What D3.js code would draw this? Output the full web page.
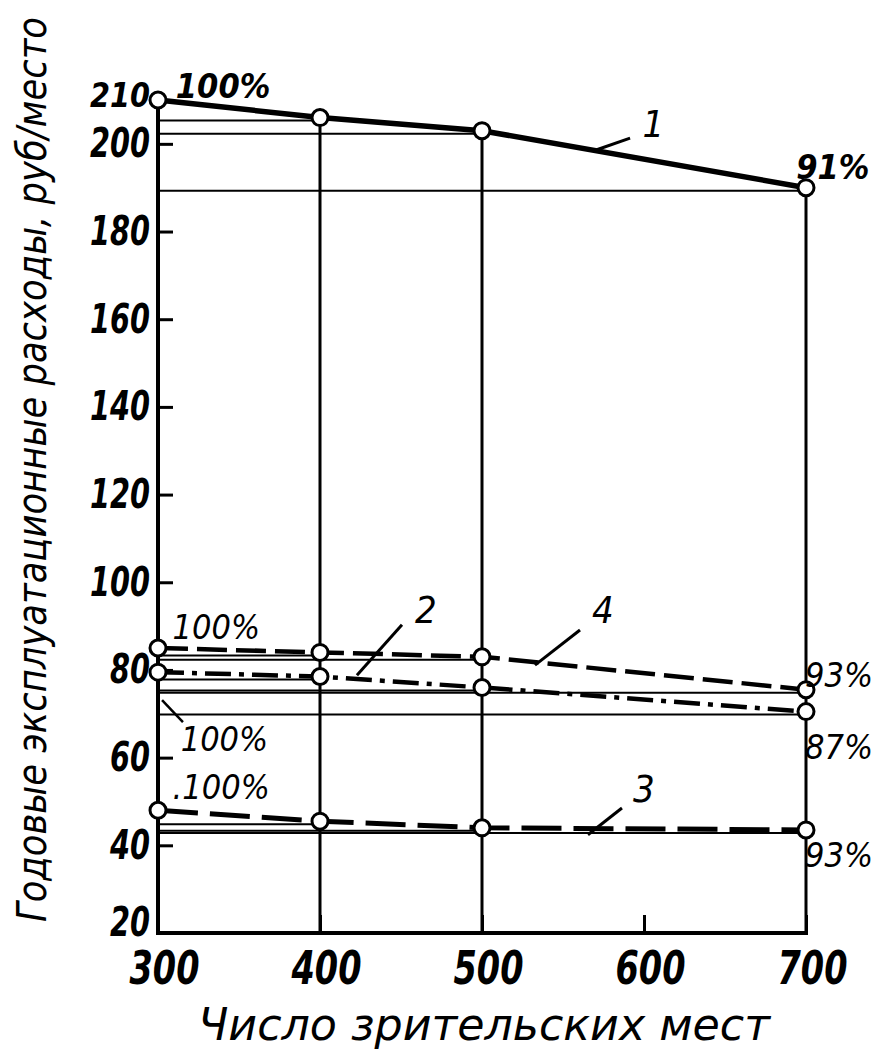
<!DOCTYPE html>
<html>
<head>
<meta charset="utf-8">
<script src="https://cdn.jsdelivr.net/npm/d3@7"></script>
<style>
  body { margin: 0; background: #fff; }
  text { font-family: "DejaVu Sans Condensed", sans-serif; font-style: italic; fill: #000; }
</style>
</head>
<body>
<svg id="chart"></svg>
<script>
// seats in the hall and yearly running costs per seat, rub
let seats = [300, 400, 500, 700];
let series1 = [210, 206, 203, 190];
let series2 = [79.5, 78.5, 76, 70.5];
let series3 = [48, 45.5, 44, 43.5];
let series4 = [85, 84, 83, 75.5];

let xTicks = [300, 400, 500, 600, 700];
let yTicks = [20, 40, 60, 80, 100, 120, 140, 160, 180, 200, 210];

// percent notes and curve numbers, placed in data units
let notes = [
    { t: "100%", x: 311, y: 210.5, bold: true },
    { t: "91%", x: 694, y: 192, bold: true },
    { t: "100%", x: 309, y: 87 },
    { t: "100%", x: 314, y: 61.5 },
    { t: ".100%", x: 309, y: 50.5 },
    { t: "93%", x: 699.4, y: 76.2 },
    { t: "87%", x: 699.4, y: 59.8 },
    { t: "93%", x: 699.4, y: 35 }
];
let numbers = [
    { t: "1", x: 599, y: 201.5, from: [591.4, 201.3], to: [570.4, 198.6] },
    { t: "2", x: 458.6, y: 90.8, from: [450.6, 90.3], to: [422.8, 78.8] },
    { t: "4", x: 567.9, y: 90.8, from: [560.5, 89.1], to: [532.7, 81.1] },
    { t: "3", x: 593.2, y: 49.8, from: [586.4, 48.5], to: [565.4, 42.4] }
];

let width = 877, height = 1058;
let svg = d3.select("#chart").attr("width", width).attr("height", height);

let x = d3.scaleLinear().domain([300, 700]).range([158, 806]);
let y = d3.scaleLinear().domain([20, 210]).range([933, 100]);

// projection lines from the axis to every point
let allSeries = [series1, series2, series3, series4];
allSeries.forEach(s => {
    svg.append("g").selectAll("line")
        .data(s.slice(1))
        .enter()
        .append("line")
        .attr("x1", x(300))
        .attr("x2", (d, i) => x(seats[i + 1]))
        .attr("y1", d => y(d) + 3)
        .attr("y2", d => y(d) + 3)
        .attr("stroke", "#000")
        .attr("stroke-width", 2);
});

// vertical lines down from curve 1
svg.append("g").selectAll("line")
    .data(seats.slice(1))
    .enter()
    .append("line")
    .attr("x1", d => x(d))
    .attr("x2", d => x(d))
    .attr("y1", (d, i) => y(series1[i + 1]))
    .attr("y2", y(20))
    .attr("stroke", "#000")
    .attr("stroke-width", 3);

// axes
let yAxis = d3.axisLeft(y)
    .tickValues(yTicks)
    .tickSizeInner(-15)
    .tickSizeOuter(0)
    .tickPadding(8)
    .tickFormat(d3.format("d"));

let gy = svg.append("g")
    .attr("transform", `translate(${x(300)},0)`)
    .call(yAxis);
gy.select(".domain").remove();
gy.selectAll(".tick line").attr("stroke", "#000").attr("stroke-width", 3)
    .filter(d => d === 20 || d === 210).remove();
gy.selectAll(".tick text")
    .attr("font-size", 40)
    .attr("font-weight", "bold")
    .attr("textLength", d => d < 100 ? 40 : 60)
    .attr("lengthAdjust", "spacingAndGlyphs")
    .style("font-family", "DejaVu Sans Condensed, sans-serif")
    .style("font-style", "italic");
gy.selectAll(".tick text").filter(d => d === 20).attr("dy", "0.05em");
gy.selectAll(".tick text").filter(d => d === 210).attr("dy", "0.2em").attr("font-size", 34);

let xAxis = d3.axisBottom(x)
    .tickValues(xTicks)
    .tickSizeInner(-18)
    .tickSizeOuter(0)
    .tickPadding(18)
    .tickFormat(d3.format("d"));

let gx = svg.append("g")
    .attr("transform", `translate(0,${y(20)})`)
    .call(xAxis);
gx.select(".domain").remove();
gx.selectAll(".tick line").attr("stroke", "#000").attr("stroke-width", 3);
gx.selectAll(".tick text")
    .attr("font-size", 46)
    .attr("font-weight", "bold")
    .attr("dx", 6)
    .attr("textLength", 70)
    .attr("lengthAdjust", "spacingAndGlyphs")
    .style("font-family", "DejaVu Sans Condensed, sans-serif")
    .style("font-style", "italic");

svg.append("line")
    .attr("x1", x(300)).attr("x2", x(300))
    .attr("y1", y(20) + 2).attr("y2", y(series1[0]))
    .attr("stroke", "#000").attr("stroke-width", 4);
svg.append("line")
    .attr("x1", x(300) - 2).attr("x2", x(700) + 2)
    .attr("y1", y(20)).attr("y2", y(20))
    .attr("stroke", "#000").attr("stroke-width", 4);

// curves
let line = d3.line()
    .x((d, i) => x(seats[i]))
    .y(d => y(d));

let styles = [
    { data: series1, w: 5.5, dash: null },
    { data: series4, w: 4.5, dash: "30,9" },
    { data: series2, w: 4.5, dash: "26,8,5,8" },
    { data: series3, w: 5, dash: "40,12" }
];

styles.forEach(s => {
    svg.append("path")
        .datum(s.data)
        .attr("d", line)
        .attr("fill", "none")
        .attr("stroke", "#000")
        .attr("stroke-width", s.w)
        .attr("stroke-dasharray", s.dash);
});

styles.forEach(s => {
    svg.append("g").selectAll("circle")
        .data(s.data)
        .enter()
        .append("circle")
        .attr("cx", (d, i) => x(seats[i]))
        .attr("cy", d => y(d))
        .attr("r", 8)
        .attr("fill", "#fff")
        .attr("stroke", "#000")
        .attr("stroke-width", 3);
});

// notes
svg.append("g").selectAll("text")
    .data(notes)
    .enter()
    .append("text")
    .attr("x", d => x(d.x))
    .attr("y", d => y(d.y))
    .attr("font-size", 34)
    .attr("font-weight", d => d.bold ? "bold" : "normal")
    .text(d => d.t);

// leader from axis to the middle 100% note
svg.append("line")
    .attr("x1", x(302.5)).attr("y1", y(73.1))
    .attr("x2", x(315.4)).attr("y2", y(68.1))
    .attr("stroke", "#000").attr("stroke-width", 2.5);

let nums = svg.append("g").selectAll("g")
    .data(numbers)
    .enter()
    .append("g");
nums.append("text")
    .attr("x", d => x(d.x))
    .attr("y", d => y(d.y))
    .attr("font-size", 38)
    .text(d => d.t);
nums.append("line")
    .attr("x1", d => x(d.from[0])).attr("y1", d => y(d.from[1]))
    .attr("x2", d => x(d.to[0])).attr("y2", d => y(d.to[1]))
    .attr("stroke", "#000").attr("stroke-width", 3);

// axis titles
svg.append("text")
    .attr("transform", "translate(46,922) rotate(-90)")
    .attr("font-size", 40)
    .attr("textLength", 905)
    .attr("lengthAdjust", "spacingAndGlyphs")
    .text("Годовые эксплуатационные расходы, руб/место");

svg.append("text")
    .attr("x", 198)
    .attr("y", 1040)
    .attr("font-size", 44)
    .attr("textLength", 572)
    .attr("lengthAdjust", "spacingAndGlyphs")
    .text("Число зрительских мест");
</script>
</body>
</html>
